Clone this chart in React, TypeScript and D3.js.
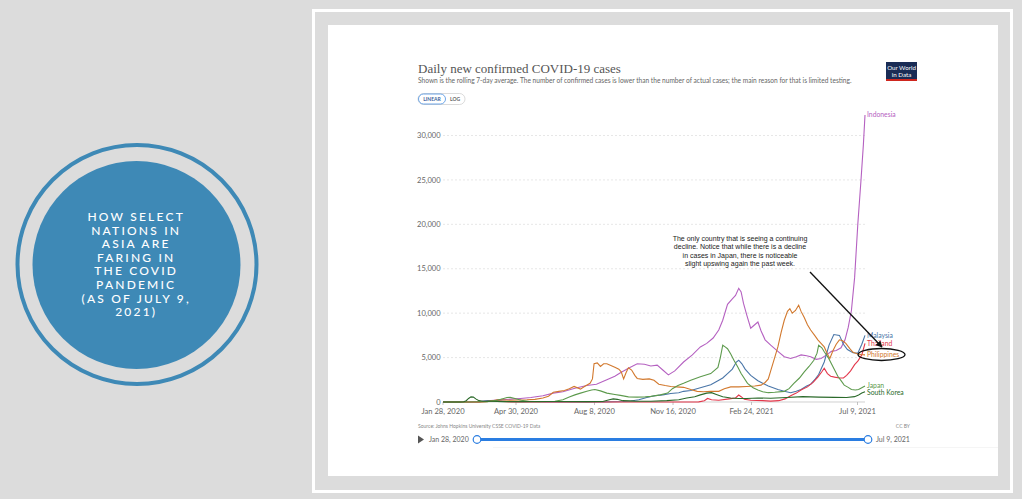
import React from 'react';
import * as d3 from 'd3';

// ---------- data ----------
const startDate = new Date(2020, 0, 28);
const endDate = new Date(2021, 6, 9);
const yTicks = [0, 5000, 10000, 15000, 20000, 25000, 30000];
const xTickDates = ['2020-01-28', '2020-04-30', '2020-08-08', '2020-11-16', '2021-02-24', '2021-07-09'];
const xTickLabels = ['Jan 28, 2020', 'Apr 30, 2020', 'Aug 8, 2020', 'Nov 16, 2020', 'Feb 24, 2021', 'Jul 9, 2021'];
const countries = ['Indonesia', 'Malaysia', 'Thailand', 'Philippines', 'Japan', 'South Korea'];
const colors = ['#b561c1', '#4a76a8', '#e3374b', '#d2792e', '#5d9a4d', '#2b6a2a'];

// [days since Jan 28 2020, 7-day avg cases]
const indonesia: [number, number][] = [[0,0],[34,2],[45,60],[60,150],[76,270],[90,350],[97,400],[110,500],[125,700],[138,1000],[150,1150],[165,1550],[180,1850],[192,2000],[205,2500],[215,2900],[222,3300],[232,3800],[243,4300],[252,4250],[260,4050],[268,4150],[275,3600],[282,3050],[290,3500],[301,4500],[312,5300],[322,6200],[330,6600],[338,7200],[345,8100],[350,9200],[356,11000],[362,11600],[366,12000],[370,12800],[373,12400],[376,11100],[380,9800],[385,8300],[390,8700],[394,9000],[398,8000],[403,7000],[410,6400],[419,5700],[427,5100],[435,4900],[442,5100],[448,5300],[455,5200],[460,5100],[467,4800],[473,4900],[480,5300],[486,5700],[492,5800],[498,6100],[503,7000],[507,8400],[511,10300],[515,14000],[519,20000],[523,25000],[526,29000],[528,32300]];
const malaysia: [number, number][] = [[0,0],[45,5],[50,80],[58,170],[65,150],[72,120],[80,60],[95,40],[110,30],[130,10],[160,10],[200,15],[225,50],[235,120],[245,250],[255,500],[265,700],[275,800],[285,960],[295,1050],[301,1200],[310,1300],[322,1600],[335,1950],[344,2400],[350,2700],[356,3200],[362,3700],[367,4500],[370,4700],[374,4300],[378,3700],[385,3000],[394,2400],[400,2100],[407,1800],[419,1400],[427,1200],[435,1050],[442,1200],[448,1400],[455,1800],[460,2000],[466,2600],[470,3100],[477,4500],[483,6400],[489,7600],[496,7500],[501,6500],[506,5900],[513,5550],[519,5500],[524,6500],[528,7500]];
const thailand: [number, number][] = [[0,0],[45,5],[55,60],[62,120],[68,110],[75,50],[85,10],[100,3],[300,5],[320,10],[327,150],[331,400],[336,250],[345,200],[358,350],[366,450],[370,780],[373,600],[377,300],[385,200],[400,150],[410,100],[420,150],[428,350],[435,700],[442,1000],[449,1400],[456,1700],[463,2200],[469,2800],[474,3400],[477,3800],[481,3200],[485,2900],[490,2800],[496,2700],[501,2700],[505,3000],[510,3500],[515,4200],[519,4600],[524,5300],[528,6600]];
const philippines: [number, number][] = [[0,0],[45,5],[55,40],[62,150],[68,250],[75,230],[85,200],[95,230],[105,250],[115,300],[125,450],[132,650],[138,1100],[145,1200],[152,1300],[158,1500],[164,1750],[172,1450],[178,1800],[184,2100],[187,2600],[189,4300],[193,4400],[197,4000],[201,4300],[205,4300],[210,4100],[215,3900],[220,3700],[223,3400],[226,2600],[229,3300],[232,3850],[236,3600],[240,3000],[243,2650],[250,2550],[258,2600],[264,2450],[270,2000],[278,1850],[285,1750],[292,1700],[301,1650],[310,1400],[318,1200],[326,1150],[335,1200],[345,1200],[352,1500],[360,1700],[370,1700],[380,1750],[390,1800],[398,1900],[403,2200],[407,2600],[410,3500],[415,5000],[419,6200],[423,7800],[427,9200],[431,10200],[434,10500],[437,10000],[441,10300],[445,10900],[448,10200],[452,9500],[456,8700],[460,8100],[465,7500],[469,7000],[473,6600],[477,6200],[481,5400],[484,4900],[488,5800],[492,6500],[496,7000],[500,6900],[504,6600],[509,6000],[513,5600],[519,5400],[523,5350],[528,5300]];
const japan: [number, number][] = [[0,0],[30,5],[45,20],[55,40],[65,150],[72,300],[76,400],[80,500],[84,520],[90,400],[98,200],[108,60],[120,40],[140,80],[150,250],[158,550],[165,800],[172,1000],[180,1200],[186,1350],[190,1400],[197,1250],[205,1000],[215,850],[222,750],[232,580],[243,550],[253,580],[260,630],[272,800],[281,1000],[287,1500],[294,1850],[301,2100],[310,2450],[322,2850],[335,3200],[344,3900],[347,5000],[350,6400],[353,6200],[356,6000],[360,5400],[364,4700],[369,3900],[373,3200],[381,2100],[388,1600],[394,1350],[400,1150],[407,1050],[415,1100],[427,1200],[433,1500],[439,2100],[446,2700],[452,3400],[458,4000],[464,4700],[468,5500],[470,6400],[474,6100],[477,5650],[482,5000],[486,4300],[490,3600],[494,2900],[498,2400],[502,1900],[507,1650],[511,1400],[516,1350],[520,1400],[524,1600],[528,1800]];
const southKorea: [number, number][] = [[0,0],[22,2],[26,20],[29,150],[32,400],[35,580],[38,550],[41,350],[45,150],[50,90],[60,80],[75,40],[100,40],[120,50],[140,50],[180,40],[200,60],[208,250],[213,350],[218,300],[225,150],[240,100],[260,80],[280,150],[295,250],[305,450],[315,600],[322,800],[330,1000],[336,1050],[342,850],[350,600],[360,450],[370,400],[380,400],[394,450],[410,430],[430,500],[450,600],[470,550],[490,520],[505,500],[515,600],[520,800],[524,1000],[528,1150]];
const seriesData = [indonesia, malaysia, thailand, philippines, japan, southKorea];

const titleText = 'Daily new confirmed COVID-19 cases';
const subtitleText = 'Shown is the rolling 7-day average. The number of confirmed cases is lower than the number of actual cases; the main reason for that is limited testing.';
const sourceText = 'Source: Johns Hopkins University CSSE COVID-19 Data';
const annotationLines = [
  'The only country that is seeing a continuing',
  'decline. Notice that while there is a decline',
  'in cases in Japan, there is noticeable',
  'slight upswing again the past week.',
];
const circleLines = ['HOW SELECT', 'NATIONS IN', 'ASIA ARE', 'FARING IN', 'THE COVID', 'PANDEMIC', '(AS OF JULY 9,', '2021)'];

export default function App() {
  const x = d3.scaleTime().domain([startDate, endDate]).range([443, 865]);
  const xLabel = d3.scaleTime().domain([startDate, endDate]).range([443, 857.5]);
  const y = d3.scaleLinear().domain([0, 30000]).range([402, 135.5]);
  const parse = d3.timeParse('%Y-%m-%d');
  const line = d3.line<[number, number]>()
    .x((d) => x(d3.timeDay.offset(startDate, d[0])))
    .y((d) => y(d[1]));

  // end labels with simple collision avoidance
  const labels = countries.map((c, i) => {
    const s = seriesData[i];
    return { name: c, color: colors[i], y: y(s[s.length - 1][1]) };
  }).sort((a, b) => a.y - b.y);
  for (let i = 1; i < labels.length; i++) {
    if (labels[i].y < labels[i - 1].y + 7) labels[i].y = labels[i - 1].y + 7;
  }

  const font = 'Lato, "Open Sans", sans-serif';
  const sliderX = d3.scaleLinear().domain([0, 1]).range([477, 868]);

  return (
    <svg width={1022} height={499} style={{ position: 'absolute', left: 0, top: 0 }}>
      <rect x={0} y={0} width={1022} height={499} fill="#dcdcdc" />
      {/* left circle */}
      <circle cx={137} cy={264.5} r={119.5} fill="none" stroke="#3e89b6" strokeWidth={4} />
      <circle cx={136.5} cy={265} r={104} fill="#3e89b6" />
      {circleLines.map((t, i) => (
        <text key={i} x={136.2} y={221 + i * 13.6} textAnchor="middle" fill="#ffffff"
          style={{ fontFamily: font, fontSize: 12, letterSpacing: 2.2, fontWeight: 500 }}>{t}</text>
      ))}
      {/* frame */}
      <rect x={313.5} y={10.5} width={698} height={481} fill="none" stroke="#ffffff" strokeWidth={3} />
      <rect x={328} y={25} width={670} height={451} fill="#ffffff" />

      {/* header */}
      <text x={418} y={73} fill="#555" style={{ fontFamily: '"Liberation Serif", serif', fontSize: 13 }}>{titleText}</text>
      <text x={418} y={82.5} fill="#666" style={{ fontFamily: font, fontSize: 6.6 }}>{subtitleText}</text>
      <rect x={418} y={93.5} width={47} height={11} rx={5.5} fill="#fff" stroke="#ccc" strokeWidth={0.7} />
      <rect x={418.5} y={94} width={27} height={10} rx={5} fill="#fff" stroke="#4a90e2" strokeWidth={0.8} />
      <text x={432} y={101} textAnchor="middle" fill="#3a5f9a" style={{ fontFamily: font, fontSize: 5, fontWeight: 700 }}>LINEAR</text>
      <text x={455} y={101} textAnchor="middle" fill="#666" style={{ fontFamily: font, fontSize: 5, fontWeight: 700 }}>LOG</text>
      <rect x={886} y={62} width={31} height={19} fill="#1a2c55" />
      <rect x={886} y={79} width={31} height={2} fill="#ce261e" />
      <text x={901.5} y={69.5} textAnchor="middle" fill="#fff" style={{ fontFamily: font, fontSize: 6.2 }}>Our World</text>
      <text x={901.5} y={76.5} textAnchor="middle" fill="#fff" style={{ fontFamily: font, fontSize: 6.2 }}>in Data</text>

      {/* grid + y axis */}
      {yTicks.map((t) => (
        <g key={t}>
          <line x1={443} x2={865} y1={y(t)} y2={y(t)} stroke={t === 0 ? '#bbb' : '#ddd'}
            strokeWidth={0.7} strokeDasharray={t === 0 ? undefined : '2,2'} />
          <text x={440.5} y={y(t)} dy="0.35em" textAnchor="end" fill="#666"
            style={{ fontFamily: font, fontSize: 7.5 }}>{d3.format(',')(t)}</text>
        </g>
      ))}
      {/* x axis */}
      {xTickDates.map((d, i) => {
        const dt = parse(d) as Date;
        return (
          <g key={d}>
            <line x1={xLabel(dt)} x2={xLabel(dt)} y1={402} y2={405} stroke="#aaa" strokeWidth={0.7} />
            <text x={xLabel(dt)} y={413.5} textAnchor="middle" fill="#666"
              style={{ fontFamily: font, fontSize: 7.6 }}>{xTickLabels[i]}</text>
          </g>
        );
      })}

      {/* lines */}
      {seriesData.map((s, i) => (
        <path key={countries[i]} d={line(s) || ''} fill="none" stroke={colors[i]} strokeWidth={1.1} />
      ))}
      {labels.map((l) => (
        <text key={l.name} x={867} y={l.y} dy="0.35em" fill={l.color}
          style={{ fontFamily: font, fontSize: 6.8 }}>{l.name}</text>
      ))}

      {/* annotation */}
      {annotationLines.map((t, i) => (
        <text key={i} x={740} y={240.5 + i * 8.6} textAnchor="middle" fill="#222"
          style={{ fontFamily: '"Liberation Sans", Arial, sans-serif', fontSize: 7 }}>{t}</text>
      ))}
      <defs>
        <marker id="ah" viewBox="0 0 10 10" refX={9} refY={5} markerWidth={5} markerHeight={5} orient="auto">
          <path d="M0,0 L10,5 L0,10 z" fill="#111" />
        </marker>
      </defs>
      <line x1={810} y1={272} x2={882} y2={347} stroke="#111" strokeWidth={1.3} markerEnd="url(#ah)" />
      <ellipse cx={881.5} cy={354.5} rx={23.5} ry={6} fill="none" stroke="#111" strokeWidth={1.3} />

      {/* footer */}
      <text x={418} y={428} fill="#888" style={{ fontFamily: font, fontSize: 5 }}>{sourceText}</text>
      <text x={910} y={428} textAnchor="end" fill="#888" style={{ fontFamily: font, fontSize: 5 }}>CC BY</text>
      <path d="M418,435.5 L424,439.5 L418,443.5 z" fill="#555" />
      <text x={429} y={439.5} dy="0.35em" fill="#666" style={{ fontFamily: font, fontSize: 7 }}>Jan 28, 2020</text>
      <line x1={sliderX(0)} x2={sliderX(1)} y1={439.5} y2={439.5} stroke="#2a7de1" strokeWidth={3} />
      <circle cx={sliderX(0)} cy={439.5} r={3.8} fill="#fff" stroke="#2a7de1" strokeWidth={1.2} />
      <circle cx={sliderX(1)} cy={439.5} r={3.8} fill="#fff" stroke="#2a7de1" strokeWidth={1.2} />
      <text x={876} y={439.5} dy="0.35em" fill="#666" style={{ fontFamily: font, fontSize: 7 }}>Jul 9, 2021</text>
      <line x1={493} x2={998} y1={447.5} y2={447.5} stroke="#f0f0f0" strokeWidth={0.7} />
    </svg>
  );
}
